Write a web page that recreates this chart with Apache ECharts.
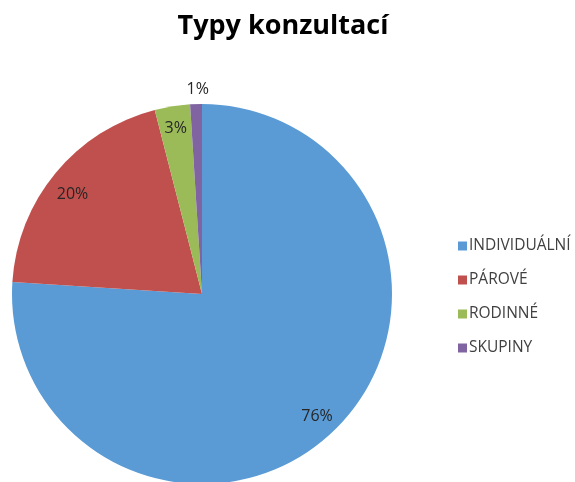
<!DOCTYPE html>
<html>
<head>
<meta charset="utf-8">
<script src="https://cdn.jsdelivr.net/npm/echarts@6/dist/echarts.min.js"></script>
<style>
  html, body { margin: 0; padding: 0; background: #fff; }
  #chart { width: 575px; height: 482px; }
</style>
</head>
<body>
<div id="chart"></div>
<script>
const categories = ['INDIVIDUÁLNÍ', 'PÁROVÉ', 'RODINNÉ', 'SKUPINY'];
const shares = [76, 20, 3, 1];
const colors = ['#5a9bd5', '#c0504d', '#9bbb59', '#8064a2'];

const chart = echarts.init(document.getElementById('chart'));

const pieData = categories.map((name, i) => ({
  name,
  value: shares[i],
  itemStyle: { color: colors[i] }
}));

// label ring: a transparent ring so that inside labels sit near the rim
const labelData = categories.map((name, i) => ({
  name,
  value: shares[i],
  label: i === 3
    ? { position: 'outside', distanceToLabelLine: 0 }
    : { position: 'inside' },
  labelLine: { show: false, length: 4, length2: 0 }
}));

chart.setOption({
  animation: false,
  color: colors,
  title: {
    text: 'Typy konzultací',
    left: 278,
    top: 8,
    textAlign: 'center',
    textStyle: {
      fontFamily: 'Open Sans',
      fontWeight: 'bold',
      fontSize: 27,
      color: '#000'
    }
  },
  legend: {
    orient: 'vertical',
    left: 453,
    top: 232,
    itemWidth: 9,
    itemHeight: 9,
    itemGap: 16,
    icon: 'rect',
    textStyle: {
      fontFamily: 'Open Sans',
      fontSize: 15.5,
      lineHeight: 18,
      color: '#404040',
      padding: [0, 0, 0, -3]
    },
    data: categories
  },
  series: [
    {
      type: 'pie',
      center: [202, 294],
      radius: 190,
      startAngle: 90,
      clockwise: true,
      label: { show: false },
      labelLine: { show: false },
      silent: true,
      data: pieData
    },
    {
      type: 'pie',
      center: [202, 294],
      radius: [140, 190],
      startAngle: 90,
      clockwise: true,
      silent: true,
      itemStyle: { color: 'transparent' },
      label: {
        show: true,
        formatter: '{d}%',
        fontFamily: 'Open Sans',
        fontSize: 16,
        color: '#262626'
      },
      labelLayout: function (params) {
        if (params.dataIndex === 3) return { dx: 13, dy: -11 };
        if (params.dataIndex === 1) return { dy: 8 };
        return {};
      },
      data: labelData
    }
  ]
});
</script>
</body>
</html>
